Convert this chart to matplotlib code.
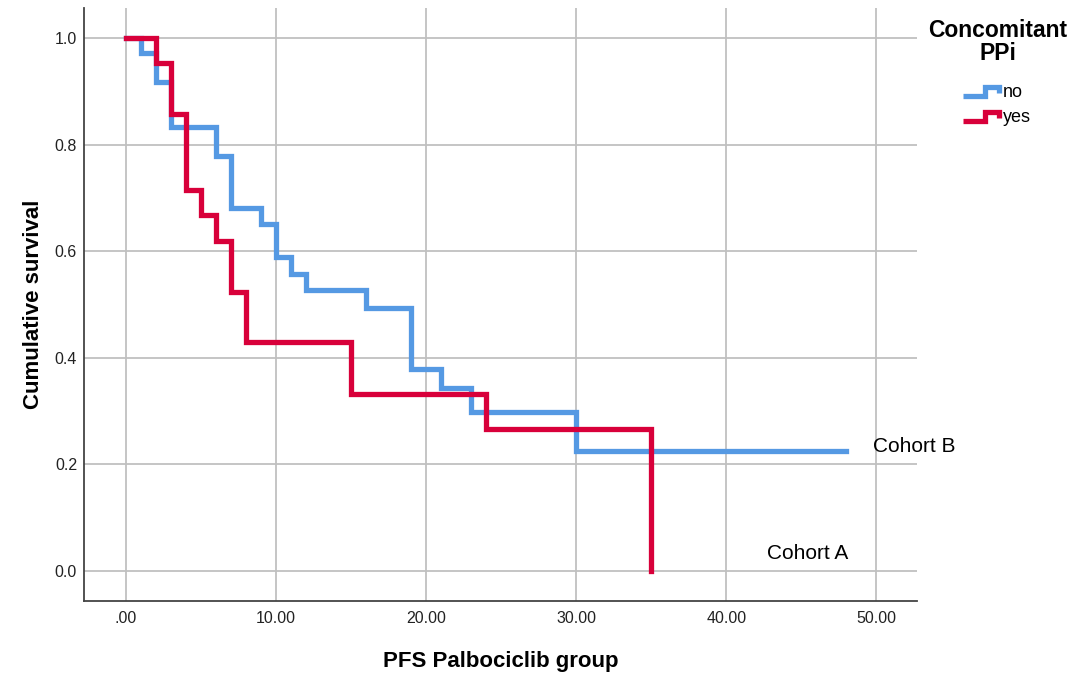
import numpy as np
import matplotlib
matplotlib.use("Agg")
import matplotlib.pyplot as plt
from matplotlib.legend_handler import HandlerBase
from matplotlib.lines import Line2D

plt.rcParams['font.family'] = ['Liberation Sans', 'DejaVu Sans']

# Kaplan-Meier steps
no_times = [0, 1, 2, 3, 6, 7, 9, 10, 11, 12, 16, 19, 21, 23, 30, 48]
no_surv = [1.0, 0.972, 0.917, 0.833, 0.778, 0.681, 0.651, 0.589, 0.558,
           0.527, 0.493, 0.379, 0.343, 0.299, 0.225, 0.225]

yes_times = [0, 2, 3, 4, 5, 6, 7, 8, 15, 24, 35]
yes_surv = [1.0, 0.952, 0.857, 0.714, 0.667, 0.619, 0.524, 0.429, 0.333,
            0.267, 0.0]

x_ticks = [0, 10, 20, 30, 40, 50]
x_ticklabels = [".00", "10.00", "20.00", "30.00", "40.00", "50.00"]
y_ticks = [0.0, 0.2, 0.4, 0.6, 0.8, 1.0]

blue = "#5599E3"
red = "#D8003A"


class StepHandler(HandlerBase):
    # little step icon like the SPSS legend
    def create_artists(self, legend, orig_handle, xdescent, ydescent,
                       width, height, fontsize, trans):
        x0 = -xdescent
        yl = -ydescent + 0.1 * height
        yh = -ydescent + 0.8 * height
        xs = [x0, x0 + 0.6 * width, x0 + 0.6 * width, x0 + width, x0 + width]
        ys = [yl, yl, yh, yh, yh - 0.5 * height]
        ln = Line2D(xs, ys, color=orig_handle.get_color(),
                    lw=orig_handle.get_linewidth(), solid_joinstyle='miter',
                    solid_capstyle='butt', transform=trans)
        return [ln]


fig = plt.figure(figsize=(10.83, 6.76), dpi=100)
ax = fig.add_axes([84 / 1083, 1 - 601 / 676, (917 - 84) / 1083, (601 - 8) / 676])

l1, = ax.step(no_times, no_surv, where='post', color=blue, lw=3.8,
              solid_joinstyle='miter', label='no', zorder=3)
l2, = ax.step(yes_times, yes_surv, where='post', color=red, lw=3.8,
              solid_joinstyle='miter', label='yes', zorder=4)

ax.set_xlim(-2.8, 52.7)
ax.set_ylim(-0.056, 1.056)
ax.set_xticks(x_ticks)
ax.set_xticklabels(x_ticklabels)
ax.set_yticks(y_ticks)
ax.set_yticklabels([f"{v:.1f}" for v in y_ticks])
ax.tick_params(length=0, labelsize=11.5, colors='#222222', pad=5)
ax.tick_params(axis='x', pad=7)
ax.grid(True, color='#C0C0C0', lw=1.3)
ax.set_axisbelow(True)
for s in ['top', 'right']:
    ax.spines[s].set_visible(False)
for s in ['left', 'bottom']:
    ax.spines[s].set_color('#444444')
    ax.spines[s].set_linewidth(1.3)

ax.set_xlabel("PFS Palbociclib group", fontsize=16, fontweight='bold', labelpad=18)
ax.set_ylabel("Cumulative survival", fontsize=16, fontweight='bold', labelpad=8)

ax.text(49.8, 0.233, "Cohort B", fontsize=15, va='center', ha='left', clip_on=False)
ax.text(42.7, 0.034, "Cohort A", fontsize=15, va='center', ha='left', clip_on=False)

fig.text(998 / 1083, 1 - 19 / 676, "Concomitant\nPPi", fontsize=16.5,
         fontweight='bold', ha='center', va='top', linespacing=1.0)

leg = fig.legend([l1, l2], ['no', 'yes'], loc='upper left',
                 bbox_to_anchor=(963 / 1083, 1 - 84 / 676), frameon=False,
                 fontsize=13, handlelength=2.0, handletextpad=0.2,
                 labelspacing=0.45, borderpad=0, borderaxespad=0,
                 handler_map={Line2D: StepHandler()})

fig.savefig("out.png", dpi=100)
